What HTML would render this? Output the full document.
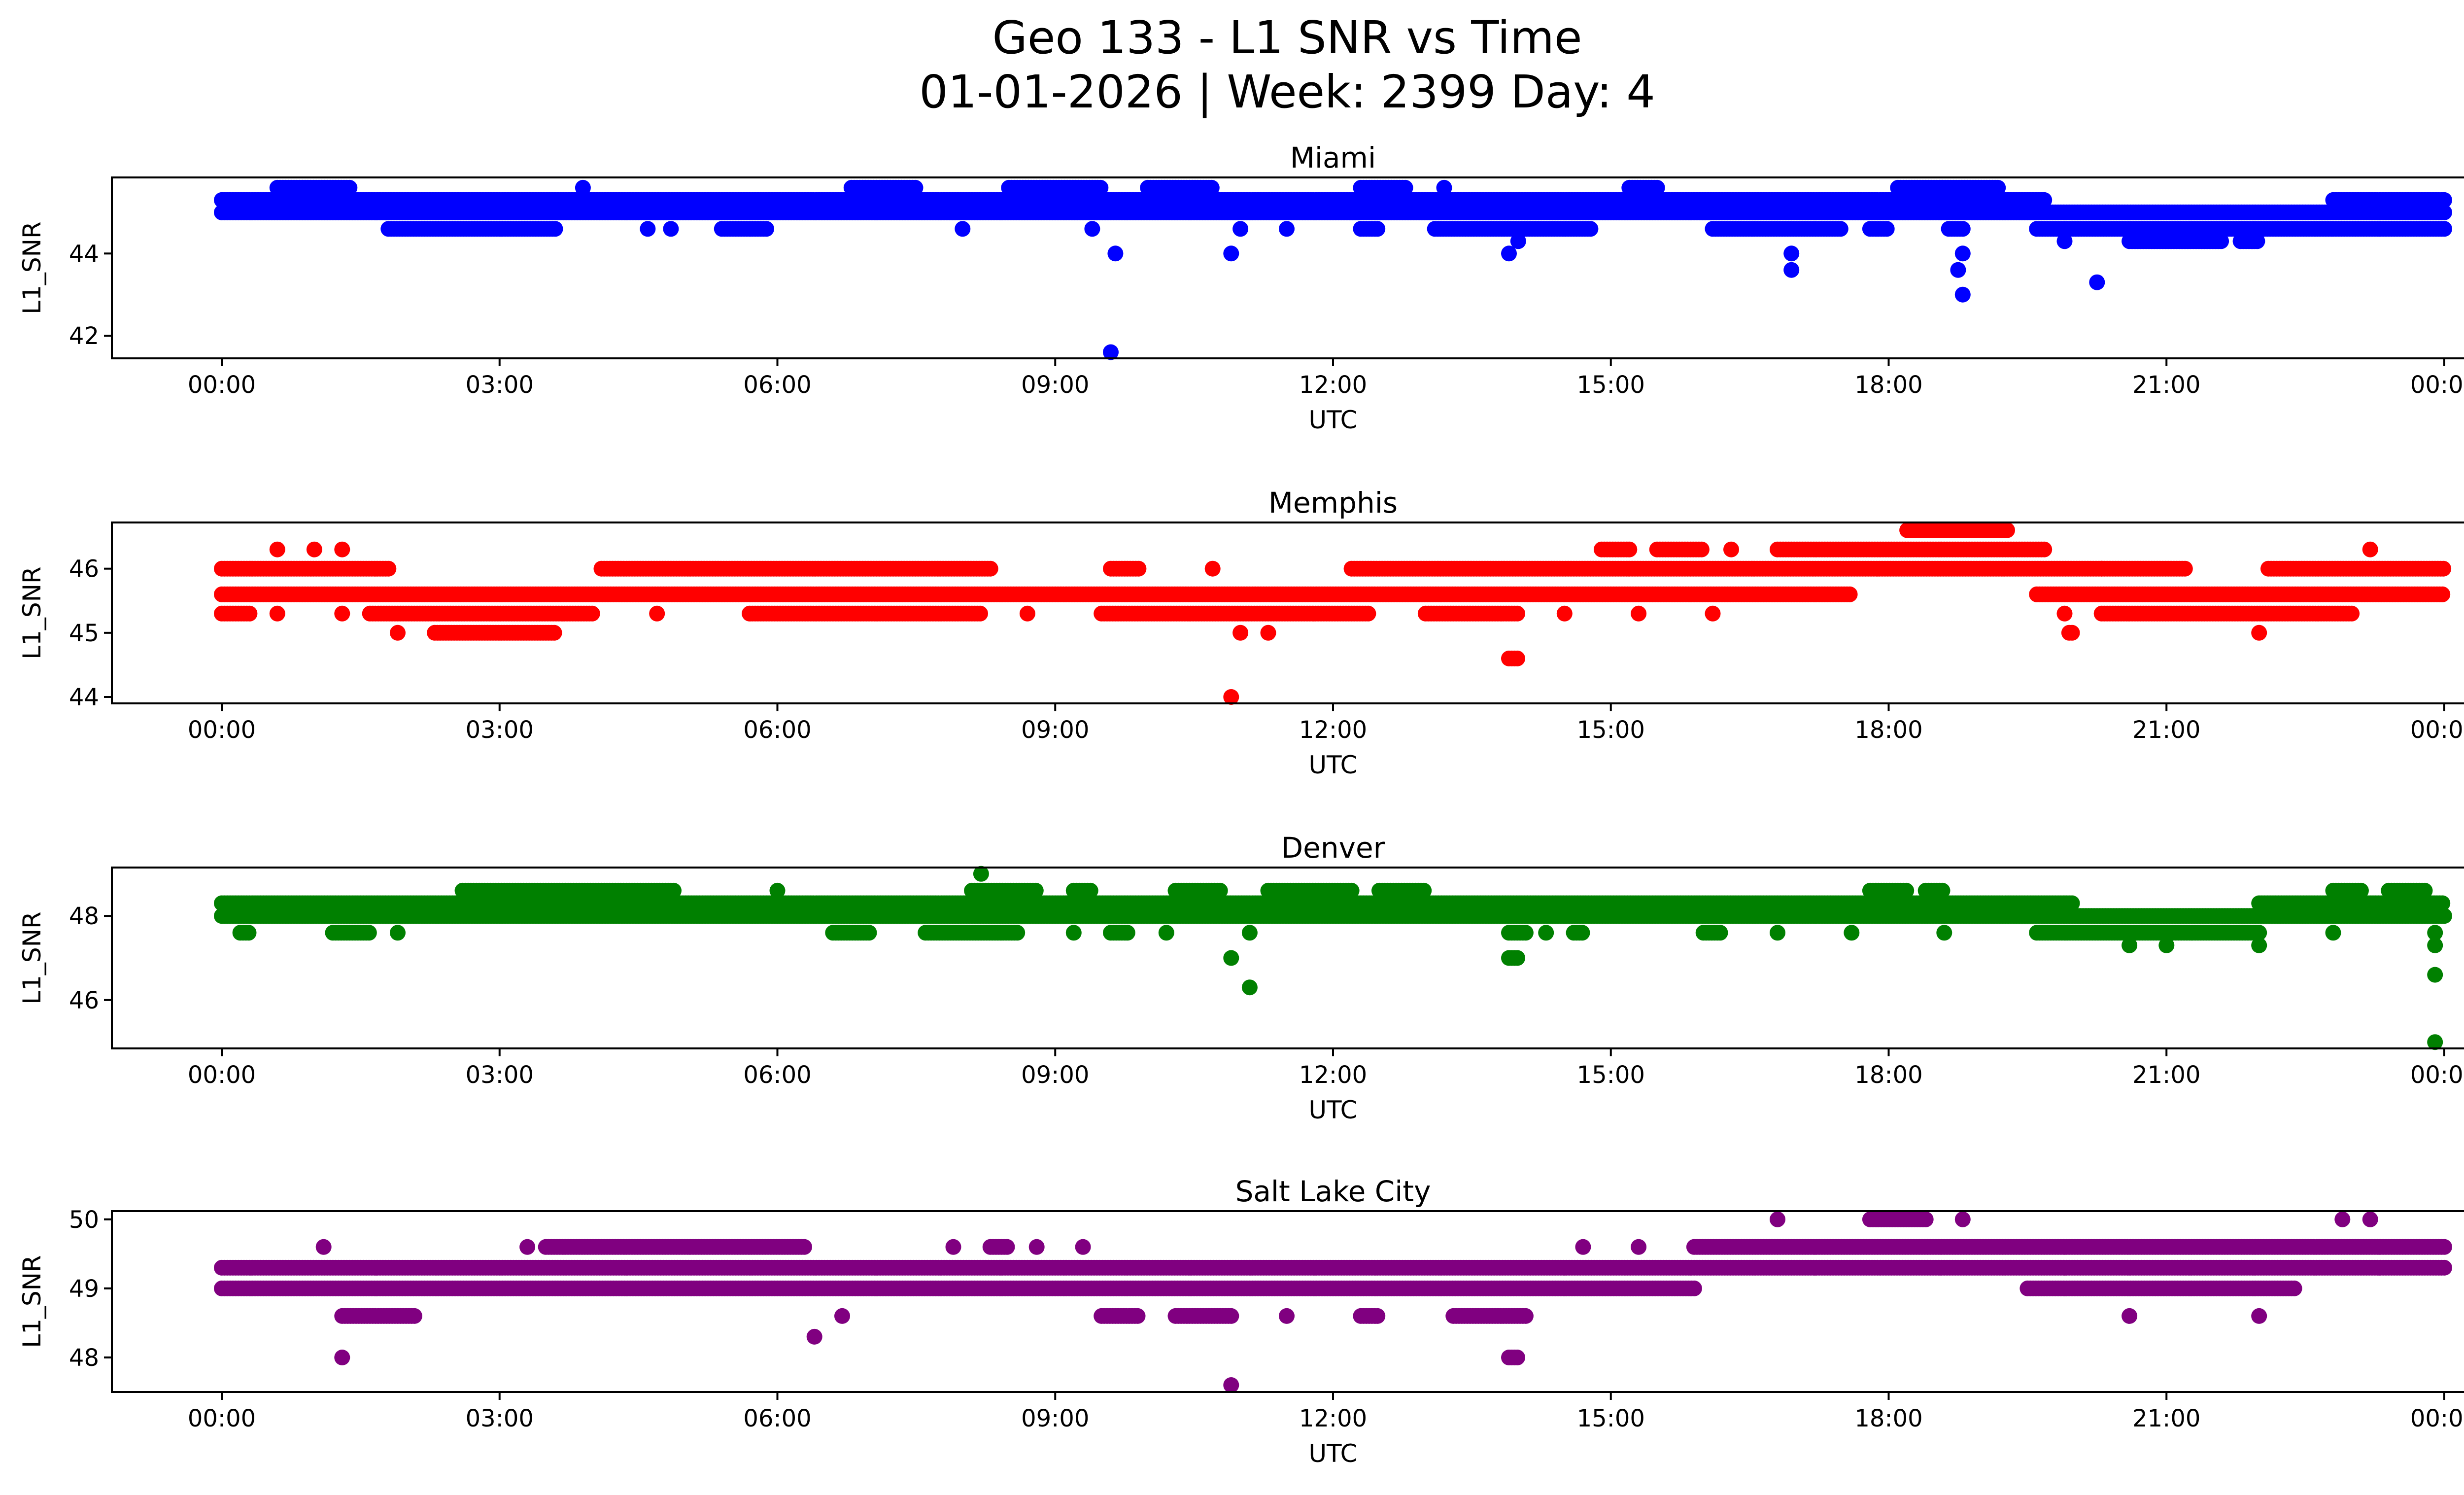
<!DOCTYPE html>
<html><head><meta charset="utf-8"><style>
html,body{margin:0;padding:0;background:#fff;}
svg{display:block;font-family:"DejaVu Sans","Liberation Sans",sans-serif;}
</style></head><body>
<svg id="fig" width="5225" height="3033" viewBox="0 0 5225 3033" xmlns="http://www.w3.org/2000/svg">
<rect width="5225" height="3033" fill="#fff"/>
<text x="2612" y="108" font-size="92" text-anchor="middle">Geo 133 - L1 SNR vs Time</text>
<text x="2612" y="218" font-size="92" text-anchor="middle">01-01-2026 | Week: 2399 Day: 4</text>
</svg>
<script>
// Runs: [startHour, endHour, value]; single points have start==end
const miamiRuns=[[0,24,45.0],[0,19.7,45.3],[22.8,24,45.3],[0.6,1.4,45.6],[3.9,3.9,45.6],[6.8,7.5,45.6],[8.5,9.5,45.6],[10,10.7,45.6],[12.3,12.8,45.6],[13.2,13.2,45.6],[15.2,15.5,45.6],[18.1,19.2,45.6],
[1.8,3.6,44.6],[4.6,4.6,44.6],[4.85,4.85,44.6],[5.4,5.9,44.6],[8.0,8.0,44.6],[9.4,9.4,44.6],[11.0,11.0,44.6],[11.5,11.5,44.6],[12.3,12.5,44.6],[13.1,14.8,44.6],[16.1,17.5,44.6],[17.8,18.0,44.6],[18.65,18.8,44.6],[19.6,22.8,44.6],[22.8,24,44.6],
[20.6,21.6,44.3],[21.8,22.0,44.3],[19.9,19.9,44.3],[14.0,14.0,44.3],
[9.65,9.65,44.0],[10.9,10.9,44.0],[13.9,13.9,44.0],[16.95,16.95,44.0],[18.8,18.8,44.0],[16.95,16.95,43.6],[18.75,18.75,43.6],[20.25,20.25,43.3],[18.8,18.8,43.0],[9.6,9.6,41.6]];
const memphisRuns=[[0,17.6,45.6],[19.6,24,45.6],[0,1.8,46.0],[4.1,8.3,46.0],[9.6,9.9,46.0],[10.7,10.7,46.0],[12.2,20.3,46.0],[20.3,21.2,46.0],[22.1,24,46.0],
[0,0.3,45.3],[0.6,0.6,45.3],[1.3,1.3,45.3],[1.6,4.0,45.3],[4.7,4.7,45.3],[5.7,8.2,45.3],[8.7,8.7,45.3],[9.5,12.4,45.3],[13.0,14.0,45.3],[14.5,14.5,45.3],[15.3,15.3,45.3],[16.1,16.1,45.3],[20.3,23.0,45.3],[19.9,19.9,45.3],
[1.9,1.9,45.0],[2.3,3.6,45.0],[11.0,11.0,45.0],[11.3,11.3,45.0],[19.95,20.0,45.0],[22.0,22.0,45.0],
[0.6,0.6,46.3],[1.0,1.0,46.3],[1.3,1.3,46.3],[14.9,15.2,46.3],[15.5,16.0,46.3],[16.3,16.3,46.3],[16.8,19.7,46.3],[23.2,23.2,46.3],[18.2,19.3,46.6],[13.9,14.0,44.6],[10.9,10.9,44.0]];
const denverRuns=[[0,24,48.0],[0,20.0,48.3],[22.0,24,48.3],[2.6,4.9,48.6],[6.0,6.0,48.6],[8.1,8.8,48.6],[9.2,9.4,48.6],[10.3,10.8,48.6],[11.3,12.2,48.6],[12.5,13.0,48.6],[17.8,18.2,48.6],[18.4,18.6,48.6],[22.8,23.1,48.6],[23.4,23.8,48.6],
[0.2,0.3,47.6],[1.2,1.6,47.6],[1.9,1.9,47.6],[6.6,7.0,47.6],[7.6,8.6,47.6],[9.2,9.2,47.6],[9.6,9.8,47.6],[10.2,10.2,47.6],[11.1,11.1,47.6],[13.9,14.1,47.6],[14.3,14.3,47.6],[14.6,14.7,47.6],[16.0,16.2,47.6],[16.8,16.8,47.6],[17.6,17.6,47.6],[18.6,18.6,47.6],[19.6,22.0,47.6],[22.8,22.8,47.6],[23.9,23.9,47.6],
[20.6,20.6,47.3],[21.0,21.0,47.3],[22.0,22.0,47.3],[23.9,23.9,47.3],[10.9,10.9,47.0],[13.9,14.0,47.0],[23.9,23.9,46.6],[11.1,11.1,46.3],[23.9,23.9,45.0],[8.2,8.2,49.0]];
const slcRuns=[[0,24,49.3],[0,15.9,49.0],[19.5,22.4,49.0],[1.1,1.1,49.6],[3.3,3.3,49.6],[3.5,6.3,49.6],[7.9,7.9,49.6],[8.3,8.5,49.6],[8.8,8.8,49.6],[9.3,9.3,49.6],[14.7,14.7,49.6],[15.3,15.3,49.6],[15.9,24,49.6],
[16.8,16.8,50.0],[17.8,18.4,50.0],[18.8,18.8,50.0],[22.9,22.9,50.0],[23.2,23.2,50.0],
[1.3,2.1,48.6],[6.7,6.7,48.6],[9.5,9.9,48.6],[10.3,10.9,48.6],[11.5,11.5,48.6],[12.3,12.5,48.6],[13.3,14.1,48.6],[20.6,20.6,48.6],[22.0,22.0,48.6],
[6.4,6.4,48.3],[1.3,1.3,48.0],[13.9,14.0,48.0],[10.9,10.9,47.6]];
const panelTitles=["Miami","Memphis","Denver","Salt Lake City"];
const xTickLabels=["00:00","03:00","06:00","09:00","12:00","15:00","18:00","21:00","00:00"];
const yTicks=[[42,44],[44,45,46],[46,48],[48,49,50]];

const NS="http://www.w3.org/2000/svg";
const svg=document.getElementById('fig');
function mk(tag,attrs,parent){const e=document.createElementNS(NS,tag);for(const k in attrs)e.setAttribute(k,attrs[k]);(parent||svg).appendChild(e);return e;}
const L=227,R=5183,H=367;
const tops=[360,1060,1760,2457];
const yDom=[[41.45,45.85],[43.9,46.72],[44.85,49.15],[47.5,50.12]];
const colors=["#0000ff","#ff0000","#008000","#800080"];
const allRuns=[miamiRuns,memphisRuns,denverRuns,slcRuns];
const x0=450,x1=4960;
function xs(h){return x0+(x1-x0)*h/24;}
allRuns.forEach((runs,i)=>{
  const top=tops[i],bot=top+H,[lo,hi]=yDom[i];
  const ys=v=>bot-(v-lo)/(hi-lo)*H;
  const g=mk('g',{});
  
  
  const t=mk('text',{x:(L+R)/2,y:top-20,'font-size':58,'text-anchor':'middle'},g);
  t.textContent=panelTitles[i];
  
  
  const pts=mk('g',{fill:colors[i]},g);
  
  
  runs.forEach(r=>{
    for(let h=r[0];h<=r[1]+1e-9;h+=0.03){
      const c=mk('circle',{cx:xs(h).toFixed(1),cy:ys(r[2]).toFixed(1),r:16},pts);
      
      
      if(r[0]===r[1])break;
    }
  });
  const fr=mk('rect',{x:L,y:top,width:R-L,height:H,fill:'none',stroke:'#000','stroke-width':4},g);
  
  
  xTickLabels.forEach((lab,k)=>{
    const x=xs(k*3);
    mk('line',{x1:x,x2:x,y1:bot,y2:bot+16,stroke:'#000','stroke-width':4},g);
    const tt=mk('text',{x:x,y:bot+70,'font-size':48,'text-anchor':'middle'},g);
    tt.textContent=lab;
    
    
  });
  yTicks[i].forEach(v=>{
    const y=ys(v);
    mk('line',{x1:L-16,x2:L,y1:y,y2:y,stroke:'#000','stroke-width':4},g);
    const tt=mk('text',{x:L-26,y:y+17,'font-size':48,'text-anchor':'end'},g);
    tt.textContent=v;
    
    
  });
  const xl=mk('text',{x:(L+R)/2,y:bot+142,'font-size':50,'text-anchor':'middle'},g);
  xl.textContent='UTC';
  
  
  const yl=mk('text',{x:0,y:0,'font-size':50,'text-anchor':'middle',transform:`translate(82,${top+H/2}) rotate(-90)`},g);
  yl.textContent='L1_SNR';
  
  
});
</script>
</body></html>
